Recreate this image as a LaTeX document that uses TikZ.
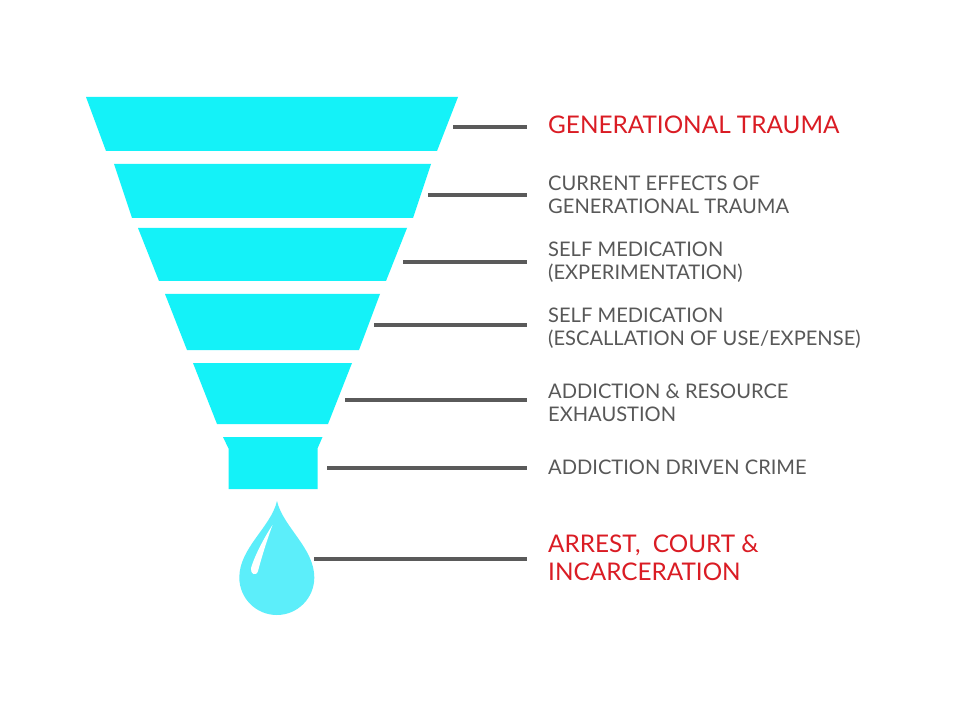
\documentclass[tikz,border=0pt]{standalone}
\usepackage{fontspec}
\setmainfont{Lato}
\definecolor{funnelc}{RGB}{20,242,248}
\definecolor{dropc}{RGB}{92,238,250}
\definecolor{linec}{RGB}{90,90,90}
\definecolor{greyt}{RGB}{88,88,88}
\definecolor{redt}{RGB}{218,28,36}
\tikzset{
  seg/.style={fill=funnelc, draw=none},
  conn/.style={draw=linec, line width=3.2pt},
  greylab/.style={anchor=base west, inner sep=0pt, text=greyt, font=\fontsize{20.1}{23}\selectfont},
  redlab/.style={anchor=base west, inner sep=0pt, text=redt, font=\fontsize{24.3}{28}\selectfont},
}
\newcommand{\twolines}[2]{\begin{tabular}[t]{@{}l@{}}#1\\#2\end{tabular}}
\begin{document}
\begin{tikzpicture}[x=1pt,y=-1pt]
\useasboundingbox[fill=white] (0,0) rectangle (960,708);
% funnel segments
\fill[seg] (86,97) -- (458,97) -- (437,151) -- (106,151) -- cycle;
\fill[seg] (114,164) -- (431,164) -- (413,218) -- (132,218) -- cycle;
\fill[seg] (138,228) -- (407,228) -- (386,281) -- (159,281) -- cycle;
\fill[seg] (165,294) -- (380,294) -- (359,350) -- (187,350) -- cycle;
\fill[seg] (193,363) -- (352,363) -- (328,424) -- (217,424) -- cycle;
\fill[seg] (223,437) -- (322.5,437) -- (317.5,448.5) -- (317.5,489) -- (228.5,489) -- (228.5,448.5) -- cycle;
% drop
\fill[dropc] (277,501) .. controls (283,527) and (314.3,548) .. (314.3,577.5)
  .. controls (314.3,598.2) and (297.5,615) .. (276.8,615)
  .. controls (256.1,615) and (239.3,598.2) .. (239.3,577.5)
  .. controls (239.3,548) and (271,527) .. (277,501) -- cycle;
\fill[white] (272.5,525) .. controls (264,538) and (255,555) .. (251,568)
  .. controls (250,574) and (256,577) .. (258,571)
  .. controls (262,556) and (267,540) .. (272.5,525) -- cycle;
% connector end points
\coordinate (ls1) at (453,127);   \coordinate (le1) at (527,127);
\coordinate (ls2) at (428,195);   \coordinate (le2) at (527,195);
\coordinate (ls3) at (403,262);   \coordinate (le3) at (527,262);
\coordinate (ls4) at (374,325);   \coordinate (le4) at (527,325);
\coordinate (ls5) at (345,400);   \coordinate (le5) at (527,400);
\coordinate (ls6) at (327,468);   \coordinate (le6) at (527,468);
\coordinate (ls7) at (314,559);   \coordinate (le7) at (527,559);
\foreach \i in {1,...,7} \draw[conn] (ls\i) -- (le\i);
% labels
\node[redlab] (t1) at (548,133.5) {GENERATIONAL TRAUMA};
\node[greylab] (t2) at (548,190.5) {\twolines{CURRENT EFFECTS OF}{GENERATIONAL TRAUMA}};
\node[greylab] (t3) at (548,256.5) {\twolines{SELF MEDICATION}{(EXPERIMENTATION)}};
\node[greylab] (t4) at (548,323) {\twolines{SELF MEDICATION}{(ESCALLATION OF USE/EXPENSE)}};
\node[greylab] (t5) at (548,398) {\twolines{ADDICTION \& RESOURCE}{EXHAUSTION}};
\node[greylab] (t6) at (548,474) {ADDICTION DRIVEN CRIME};
\node[redlab] (t7) at (548,552) {\twolines{ARREST,\ \ COURT \&}{INCARCERATION}};
\end{tikzpicture}
\end{document}
